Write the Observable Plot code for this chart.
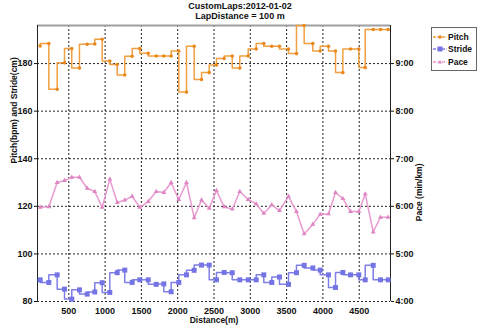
<!DOCTYPE html>
<html><head><meta charset="utf-8">
<script src="https://cdn.jsdelivr.net/npm/d3@7"></script>
<script src="https://cdn.jsdelivr.net/npm/@observablehq/plot@0.6"></script>
<style>
body{margin:0;background:#fff;font-family:"Liberation Sans",Arial,sans-serif;}
#wrap{position:relative;width:480px;height:329px;overflow:hidden;background:#fff;}
.title{position:absolute;left:0;width:480px;text-align:center;font-weight:bold;font-size:9px;line-height:10px;color:#111;}
#legend{position:absolute;left:431px;top:27px;width:44px;height:42px;border:1px solid #666;background:#fff;}
#legend .row{position:absolute;left:0;height:10px;width:44px;}
#legend svg{position:absolute;left:1px;top:0;}
#legend span{position:absolute;left:16px;top:0;font-weight:bold;font-size:8.5px;line-height:10px;color:#111;}
</style></head><body>
<div id="wrap">
  <div id="chart"></div>
  <div class="title" style="top:1px">CustomLaps:2012-01-02</div>
  <div class="title" style="top:11px">LapDistance = 100 m</div>
  <div id="legend"></div>
</div>
<script>
const distance = [106,225,340,441,541,647,753,858,960,1065,1167,1271,1373,1478,1594,1704,1809,1910,2015,2121,2227,2328,2434,2534,2640,2751,2855,2971,3081,3186,3296,3402,3526,3636,3742,3861,3963,4077,4174,4275,4380,4495,4583,4693,4793,4899];
const pitch = [187.4,188.4,169.2,180.3,186.3,178.1,188.1,188.2,190.2,181.1,179.6,175.2,183.1,186.3,184.3,183.2,183.2,183.2,185.3,168.0,187.3,173.3,176.2,179.4,182.1,183.2,178.1,183.2,186.1,188.4,187.3,187.3,186.1,184.2,196.0,188.4,185.3,187.3,185.3,176.2,186.1,186.1,178.3,194.3,194.3,194.3];
const stride = [89.1,88.0,91.2,85.2,81.0,84.9,83.1,84.0,87.9,83.8,92.1,93.2,88.0,89.1,89.1,87.2,87.4,84.1,88.0,91.2,93.1,95.3,95.3,89.1,92.2,92.1,89.1,89.1,89.1,91.2,88.0,90.3,87.2,92.1,95.2,94.1,93.2,91.2,85.9,92.2,91.2,91.2,89.1,95.2,89.1,89.1];
// pace in minutes per km
const pace = [5.98,5.99,6.50,6.54,6.61,6.61,6.38,6.31,5.98,6.57,6.08,6.13,6.21,5.98,6.10,6.31,6.29,6.50,6.14,6.50,5.76,6.13,5.96,6.33,5.99,5.94,6.31,6.14,6.05,5.85,6.03,5.91,6.21,5.89,5.42,5.62,5.83,5.84,6.29,6.16,5.89,5.89,6.26,5.46,5.77,5.77];

const xTicks = [500,1000,1500,2000,2500,3000,3500,4000,4500];
const yTicks = [80,100,120,140,160,180];
const paceTickLabels = ["4:00","5:00","6:00","7:00","8:00","9:00"];
const xDomain = [69,4931];
const yDomain = [80,196];
const seriesNames = ["Pitch","Stride","Pace"];
const colors = {Pitch:"#f0a040", Stride:"#7f7fe6", Pace:"#e99ad0"};
const markColors = {Pitch:"#e8891c", Stride:"#7474e4", Pace:"#dd86c3"};

// pace (min/km) mapped onto the shared left scale: 4:00 -> 80, each minute = 20 units
const paceToLeft = p => 80 + (p - 4) * 20;

const rows = distance.map((d,i) => ({d, pitch: pitch[i], stride: stride[i], pace: paceToLeft(pace[i])}));

const font = "Liberation Sans, Arial, sans-serif";
const chart = Plot.plot({
  width: 480, height: 329,
  marginLeft: 37, marginRight: 90, marginTop: 25, marginBottom: 28,
  style: {fontFamily: font, fontSize: "9px", fontWeight: "bold", background: "white", color: "#111"},
  x: {domain: xDomain},
  y: {domain: yDomain},
  marks: [
    Plot.ruleX(xTicks, {stroke: "#222", strokeDasharray: "2,2", strokeWidth: 1}),
    Plot.ruleY(yTicks, {stroke: "#222", strokeDasharray: "2,2", strokeWidth: 1}),
    Plot.ruleY([yDomain[1]], {stroke: "#a0a0a0", strokeWidth: 2}),
    Plot.ruleX(xDomain, {stroke: "#222", strokeWidth: 1}),
    Plot.axisX({ticks: xTicks, tickSize: 0, tickPadding: 6, label: null, tickFormat: d3.format("d")}),
    Plot.axisY({ticks: yTicks, anchor: "left", tickSize: 3, tickPadding: 2, label: null, tickFormat: d3.format("d")}),
    Plot.axisY({ticks: yTicks, anchor: "right", tickSize: 3, tickPadding: 2, label: null,
      tickFormat: v => paceTickLabels[yTicks.indexOf(v)]}),
    Plot.line(rows, {x: "d", y: "pace", stroke: colors.Pace, strokeWidth: 1.5, curve: "linear"}),
    Plot.dot(rows, {x: "d", y: "pace", symbol: "triangle", r: 1.8, fill: markColors.Pace, stroke: "none"}),
    Plot.line(rows, {x: "d", y: "stride", stroke: colors.Stride, strokeWidth: 1.5, curve: "step-before"}),
    Plot.dot(rows, {x: "d", y: "stride", symbol: "square", r: 2.8, fill: markColors.Stride, stroke: "none"}),
    Plot.line(rows, {x: "d", y: "pitch", stroke: colors.Pitch, strokeWidth: 1.5, curve: "step-before"}),
    Plot.dot(rows, {x: "d", y: "pitch", r: 1.8, fill: markColors.Pitch, stroke: "none"}),
    Plot.text(["Pitch(bpm) and Stride(cm)"], {text: d => d, frameAnchor: "left", dx: -23.5, rotate: -90, fontSize: 8.5, fontWeight: "bold", fill: "#111"}),
    Plot.text(["Pace (min/km)"], {text: d => d, frameAnchor: "right", dx: 28.7, rotate: -90, fontSize: 8.5, fontWeight: "bold", fill: "#111"}),
    Plot.text(["Distance(m)"], {text: d => d, frameAnchor: "bottom", dy: 21, fontSize: 8.5, fontWeight: "bold", fill: "#111"})
  ]
});
document.getElementById("chart").appendChild(chart);

// legend
const legend = document.getElementById("legend");
const rowTops = [4, 16, 29];
const shapes = {
  Pitch: c => `<circle cx="7" cy="5" r="1.8" fill="${c}"/>`,
  Stride: c => `<rect x="4.5" y="2.5" width="5" height="5" fill="${c}"/>`,
  Pace: c => `<path d="M7,3 L9,6.5 L5,6.5 Z" fill="${c}"/>`
};
seriesNames.forEach((name, i) => {
  const row = document.createElement("div");
  row.className = "row";
  row.style.top = rowTops[i] + "px";
  row.innerHTML = `<svg width="14" height="10"><line x1="0" x2="14" y1="5" y2="5" stroke="${colors[name]}" stroke-width="1.5" stroke-dasharray="3,1.5"/>${shapes[name](markColors[name])}</svg><span>${name}</span>`;
  legend.appendChild(row);
});
</script>
</body></html>
